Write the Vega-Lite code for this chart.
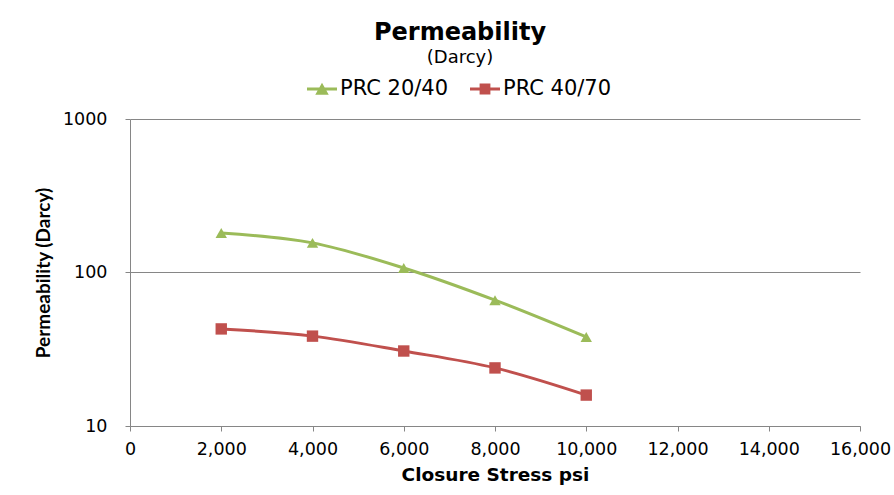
{
  "$schema": "https://vega.github.io/schema/vega-lite/v6.json",
  "width": 730,
  "height": 307,
  "autosize": {"type": "none"},
  "padding": {"left": 130, "top": 119, "right": 34, "bottom": 69},
  "background": "white",
  "title": {
    "text": "Permeability",
    "subtitle": "(Darcy)",
    "anchor": "middle",
    "dx": -35,
    "offset": 7,
    "font": "DejaVu Sans",
    "fontSize": 24,
    "fontWeight": "bold",
    "color": "#000000",
    "subtitleFont": "DejaVu Sans",
    "subtitleFontSize": 18,
    "subtitleColor": "#000000",
    "subtitlePadding": 4
  },
  "config": {
    "view": {"stroke": null},
    "axis": {
      "domainColor": "#868686",
      "tickColor": "#868686",
      "gridColor": "#868686",
      "labelFont": "DejaVu Sans",
      "labelFontSize": 17.5,
      "labelColor": "#000000",
      "labelOverlap": false,
      "labelFlush": false,
      "titleFontWeight": "bold",
      "titleColor": "#000000"
    }
  },
  "data": {
    "values": [
      {"series": "PRC 20/40", "stress": 2000, "perm": 181},
      {"series": "PRC 20/40", "stress": 4000, "perm": 156},
      {"series": "PRC 20/40", "stress": 6000, "perm": 107},
      {"series": "PRC 20/40", "stress": 8000, "perm": 66},
      {"series": "PRC 20/40", "stress": 10000, "perm": 38},
      {"series": "PRC 40/70", "stress": 2000, "perm": 42.9},
      {"series": "PRC 40/70", "stress": 4000, "perm": 38.5},
      {"series": "PRC 40/70", "stress": 6000, "perm": 30.8},
      {"series": "PRC 40/70", "stress": 8000, "perm": 23.9},
      {"series": "PRC 40/70", "stress": 10000, "perm": 15.9}
    ]
  },
  "encoding": {
    "x": {
      "field": "stress",
      "type": "quantitative",
      "title": "Closure Stress psi",
      "scale": {"domain": [0, 16000], "nice": false},
      "axis": {
        "values": [0, 2000, 4000, 6000, 8000, 10000, 12000, 14000, 16000],
        "format": ",d",
        "grid": false,
        "tickSize": 5,
        "labelPadding": 9,
        "titleFont": "DejaVu Sans",
        "titleFontSize": 18.5,
        "titlePadding": 8
      }
    },
    "y": {
      "field": "perm",
      "type": "quantitative",
      "title": "Permeability (Darcy)",
      "scale": {"type": "log", "domain": [10, 1000], "nice": false},
      "axis": {
        "values": [10, 100, 1000],
        "format": "d",
        "grid": true,
        "tickSize": 5,
        "labelPadding": 18,
        "titleFont": "Lato",
        "titleFontSize": 19,
        "titlePadding": 9
      }
    },
    "color": {
      "field": "series",
      "type": "nominal",
      "scale": {"domain": ["PRC 20/40", "PRC 40/70"], "range": ["#9BBB59", "#C0504D"]},
      "legend": null
    }
  },
  "layer": [
    {
      "mark": {"type": "line", "interpolate": "monotone", "strokeWidth": 3}
    },
    {
      "mark": {"type": "point", "filled": true, "opacity": 1, "size": 130},
      "encoding": {
        "shape": {
          "field": "series",
          "type": "nominal",
          "scale": {"domain": ["PRC 20/40", "PRC 40/70"], "range": ["triangle-up", "square"]},
          "legend": null
        }
      }
    },
    {
      "mark": {"type": "point", "filled": true, "opacity": 0, "size": 1},
      "encoding": {
        "shape": {
          "field": "series",
          "type": "nominal",
          "scale": {
            "domain": ["PRC 20/40", "PRC 40/70"],
            "range": [
              "M-1,-0.1H1V0.1H-1Z M0,-0.42L0.45,0.38H-0.45Z",
              "M-1,-0.1H1V0.1H-1Z M-0.36,-0.36H0.36V0.36H-0.36Z"
            ]
          },
          "legend": {
            "title": null,
            "orient": "none",
            "direction": "horizontal",
            "legendX": 177,
            "legendY": -45,
            "symbolSize": 900,
            "symbolOpacity": 1,
            "symbolStrokeWidth": 0,
            "labelFont": "DejaVu Sans",
            "labelFontSize": 21,
            "labelColor": "#000000",
            "labelOffset": 3,
            "columnPadding": 21,
            "labelLimit": 300
          }
        },
        "fill": {
          "field": "series",
          "type": "nominal",
          "scale": {"domain": ["PRC 20/40", "PRC 40/70"], "range": ["#9BBB59", "#C0504D"]},
          "legend": {
            "title": null,
            "orient": "none",
            "direction": "horizontal",
            "legendX": 177,
            "legendY": -45,
            "symbolSize": 900,
            "symbolOpacity": 1,
            "symbolStrokeWidth": 0,
            "labelFont": "DejaVu Sans",
            "labelFontSize": 21,
            "labelColor": "#000000",
            "labelOffset": 3,
            "columnPadding": 21,
            "labelLimit": 300
          }
        }
      }
    }
  ],
  "resolve": {"scale": {"shape": "independent", "fill": "independent"}}
}
